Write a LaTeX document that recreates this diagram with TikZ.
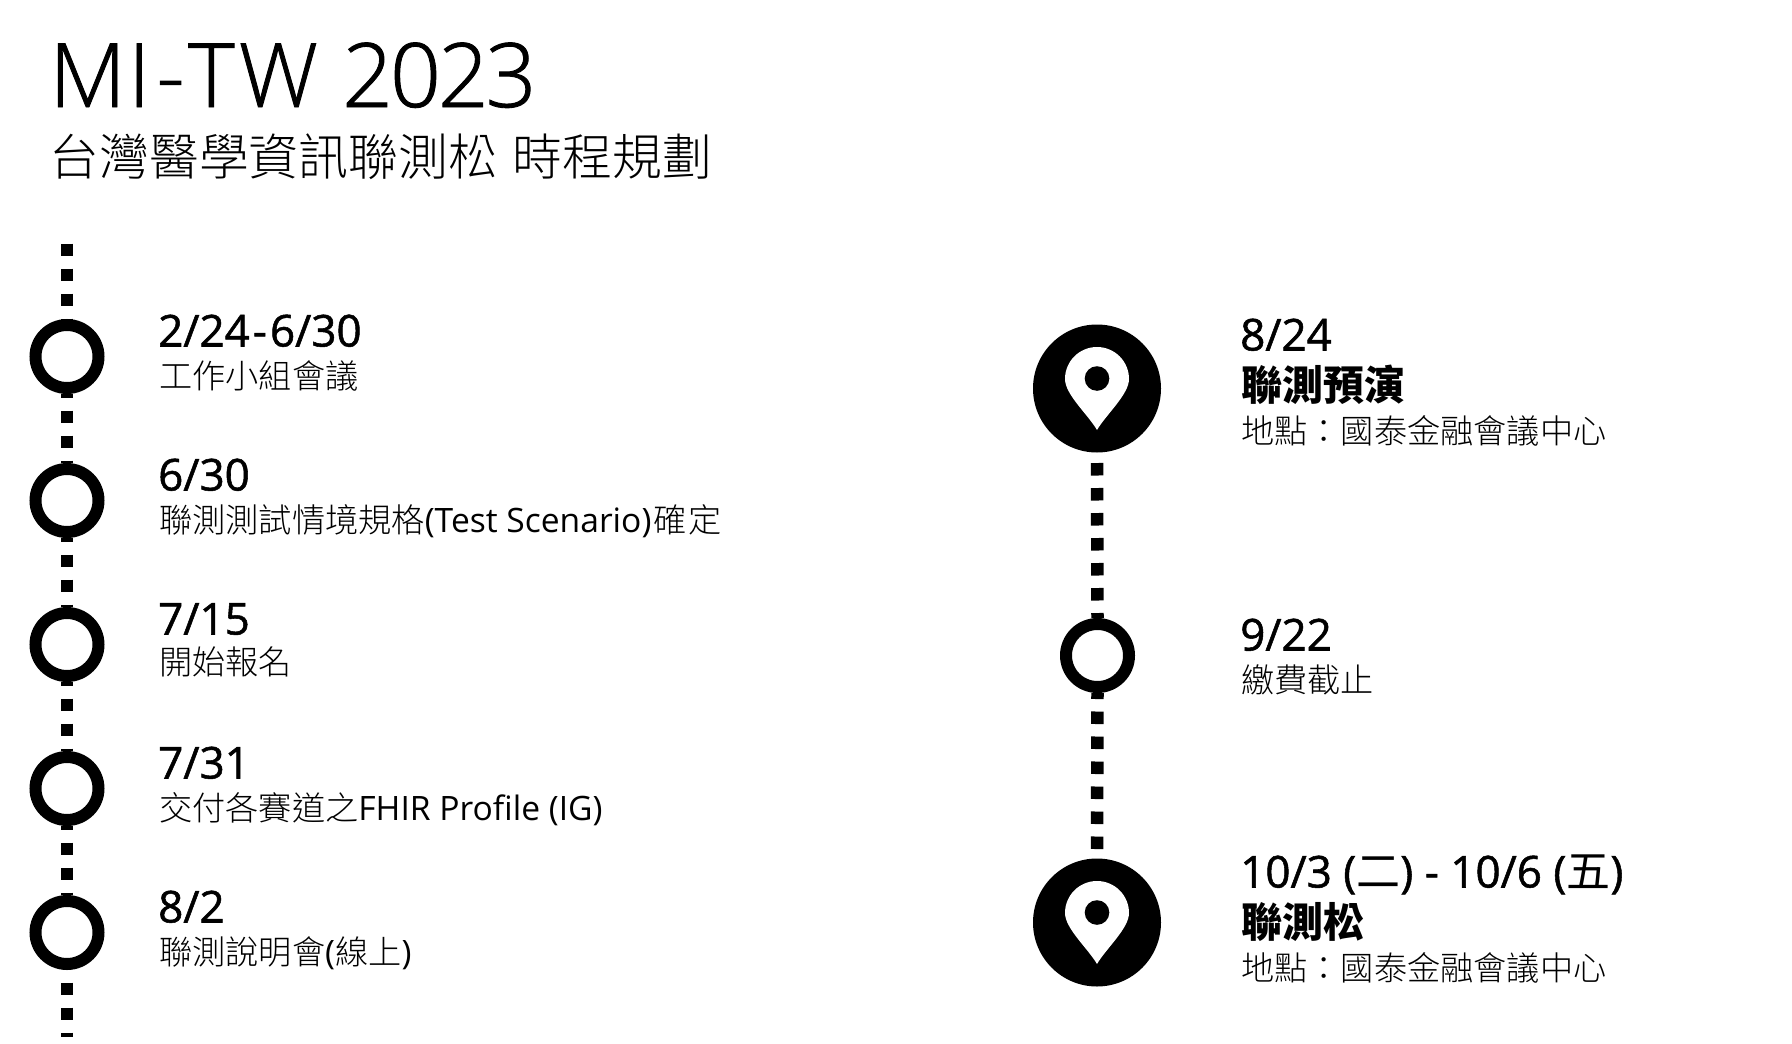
\documentclass[tikz,border=0pt]{standalone}
\usepackage{fontspec}
\setmainfont{Open Sans}
\newfontfamily\titlefont[FakeBold=1]{Open Sans Light}
\newfontfamily\tc{Noto Sans CJK TC}
\newfontfamily\tclight{Noto Sans CJK TC Light}
\newfontfamily\datefont[FakeBold=1.2]{Open Sans}
\newcommand{\sizedas}[1]{\fontsize{#1}{#1}\selectfont}
\newcommand{\latinpart}[1]{{\rmfamily\sizedas{33.6}#1}}
\tikzset{
  ring/.style={circle, draw, line width=12pt, minimum size=63pt, inner sep=0pt},
  bigdot/.style={circle, fill, minimum size=128pt, inner sep=0pt},
  dashline/.style={line width=12.5pt, dash pattern=on 12.5pt off 12.5pt},
  datelabel/.style={anchor=base west, inner sep=0pt, font=\datefont\sizedas{44}},
  textlabel/.style={anchor=base west, inner sep=0pt, font=\tclight\sizedas{33.2}},
  boldlabel/.style={anchor=base west, inner sep=0pt, font=\tc\bfseries\sizedas{41}},
  pinmark/.pic={
    \fill[white] (0,41.5) .. controls (-9,26) and (-32,6) .. (-32,-9.5)
      arc[start angle=180, end angle=360, x radius=32, y radius=32]
      .. controls (32,6) and (9,26) .. (0,41.5) -- cycle;
    \fill[black] (0,-10) circle[radius=12.3];
  }
}
\begin{document}
\begin{tikzpicture}[x=1pt, y=-1pt]
  \useasboundingbox (0,0) rectangle (1792,1044);

  \node[anchor=base west, inner sep=0pt, font=\titlefont\sizedas{89}] (title) at (49,107)
    {M\hspace{2pt}I\hspace{6pt}-\hspace{3pt}T\hspace{4pt}W\hspace{1pt} 2\hspace{-3pt}0\hspace{-3pt}2\hspace{-3pt}3};
  \node[anchor=base west, inner sep=0pt, font=\tclight\sizedas{49.8}] (subtitle) at (49.5,175) {台灣醫學資訊聯測松\hspace{4pt} 時程規劃};

  \coordinate (lefttop) at (67,243.5);
  \coordinate (leftend) at (67,1036.7);
  \node[ring] (r1) at (67,356.5) {};
  \node[ring] (r2) at (67,500.5) {};
  \node[ring] (r3) at (67,644.5) {};
  \node[ring] (r4) at (67,788.5) {};
  \node[ring] (r5) at (67,932.5) {};
  \draw[dashline] (lefttop) -- (r1.north);
  \draw[dashline, dash phase=8.5pt] (r1.south) -- (r2.north);
  \draw[dashline, dash phase=8.5pt] (r2.south) -- (r3.north);
  \draw[dashline, dash phase=8.5pt] (r3.south) -- (r4.north);
  \draw[dashline, dash phase=8.5pt] (r4.south) -- (r5.north);
  \draw[dashline, dash phase=12.5pt] (r5.south) -- (leftend);

  \node[datelabel] (d1) at (158,346.5) {2/24\hspace{3pt}-\hspace{3pt}6/30};
  \node[textlabel] (t1) at (159,388.5) {工作小組會議};
  \node[datelabel] (d2) at (158,490.5) {6/30};
  \node[textlabel] (t2) at (159,532.5) {聯測測試情境規格\latinpart{(Test Scenario)}\hspace{2pt}確\hspace{2pt}定};
  \node[datelabel] (d3) at (158,634.5) {7/15};
  \node[textlabel] (t3) at (159,674.5) {開始報名};
  \node[datelabel] (d4) at (158,778.5) {7/31};
  \node[textlabel] (t4) at (159,820.5) {交付各賽道之\latinpart{FHIR Profile (IG)}};
  \node[datelabel] (d5) at (158,922.5) {8/2};
  \node[textlabel] (t5) at (159,964.5) {聯測說明會\latinpart{(}線上\latinpart{)}};

  \node[bigdot] (p1) at (1097,388.5) {};
  \node[ring] (r6) at (1097.5,655.5) {};
  \node[bigdot] (p2) at (1097,922.5) {};
  \pic at (p1) {pinmark};
  \pic at (p2) {pinmark};
  \draw[dashline, dash phase=14.7pt] (p1.south) -- (r6.north);
  \draw[dashline, dash phase=6.5pt] (r6.south) -- (p2.north);

  \node[datelabel] (d6) at (1240,350.5) {8/24};
  \node[boldlabel] (b6) at (1241,400.6) {聯測預演};
  \node[textlabel] (t6) at (1241,443) {地點：國泰金融會議中心};
  \node[datelabel] (d7) at (1240,650.5) {9/22};
  \node[textlabel] (t7) at (1241,692.5) {繳費截止};
  \node[datelabel] (d8) at (1240,887.5) {10/3 (\tc 二\datefont) - 10/6 (\tc 五\datefont)};
  \node[boldlabel] (b8) at (1241,937.6) {聯測松};
  \node[textlabel] (t8) at (1241,980) {地點：國泰金融會議中心};
\end{tikzpicture}
\end{document}
